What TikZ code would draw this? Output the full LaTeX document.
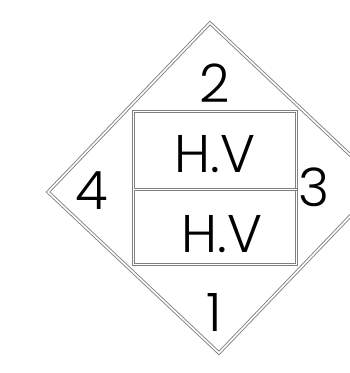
\documentclass[tikz,border=0pt]{standalone}
\usepackage{fontspec}
\setmainfont{Poppins Light}
\begin{document}
\begin{tikzpicture}[x=1pt,y=-1pt,
  dline/.style={draw=black!50,double=white,line width=0.9pt,double distance=1.6pt,line join=miter},
  lbl/.style={font=\fontsize{53}{53}\selectfont,text=black,inner sep=0pt}]
\useasboundingbox (0,0) rectangle (350,373);
\clip (0,0) rectangle (350,373);
\coordinate (T) at (210,23);
\coordinate (L) at (48,192);
\coordinate (B) at (219,353);
\coordinate (R) at (381,184);
\draw[dline] (T) -- (L) -- (B) -- (R) -- cycle;
\coordinate (r1) at (133.5,111.5);
\coordinate (r2) at (296.5,264.5);
\coordinate (m1) at (133.5,189.5);
\coordinate (m2) at (296.5,189.5);
\draw[dline] (r1) -- (r1 -| r2) -- (r2) -- (r1 |- r2) -- cycle;
\draw[dline] (m1) -- (m2);
\node[lbl] (n2) at (215,83) {2};
\node[lbl] (n4) at (92,191) {4};
\node[lbl] (n3) at (314,187) {3};
\node[lbl] (n1) at (214,312) {1};
\node[lbl] (hv1) at (215,154) {H.V};
\node[lbl] (hv2) at (222,234) {H.V};
\end{tikzpicture}
\end{document}
